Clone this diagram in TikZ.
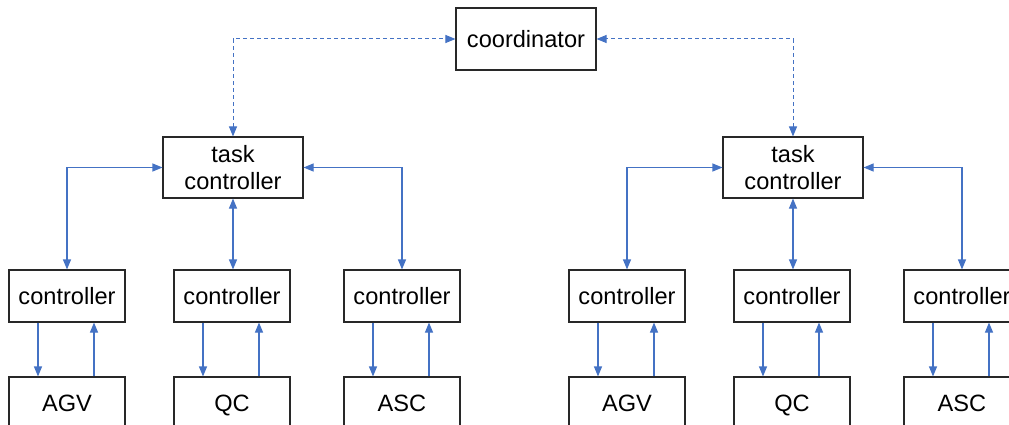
\documentclass[tikz,border=0pt]{standalone}
\usepackage{fontspec}
\setmainfont{Liberation Sans}
\usetikzlibrary{arrows.meta,calc}
\definecolor{linkblue}{RGB}{68,114,196}
\definecolor{boxgray}{RGB}{40,40,40}
\tikzset{
  unitbox/.style={draw=boxgray, line width=1.1pt, fill=white, inner sep=0pt,
    align=center, font=\fontsize{23.6}{27}\selectfont},
  ctrlbox/.style={unitbox, minimum width=116, minimum height=52},
  devbox/.style={unitbox, minimum width=116, minimum height=52,
    text height=17pt, text depth=0pt},
  topbox/.style={unitbox, minimum width=140, minimum height=61},
  link/.style={draw=linkblue, line width=1.1pt,
    arrows={-Triangle[length=10pt,width=8pt]}},
  duallink/.style={link, arrows={Triangle[length=10pt,width=8pt]-Triangle[length=10pt,width=8pt]}},
  softlink/.style={duallink, line width=1pt, dash pattern=on 4pt off 3pt}
}
\begin{document}
\begin{tikzpicture}[x=1pt, y=-1pt]
  \useasboundingbox (0,0) rectangle (1009,425);
  \clip (0,0) rectangle (1009,425);

  % top level
  \node[topbox, minimum height=62] (coord) at (526,39) {coordinator};
  \node[topbox] (tcL) at (233,167.5) {task\\controller};
  \node[topbox] (tcR) at (793,167.5) {task\\controller};

  % controllers and devices of both groups
  \foreach \side/\xa/\xb/\xc in {L/67/232/402, R/627/792/962} {
    \node[ctrlbox] (c\side1) at (\xa,296) {controller};
    \node[ctrlbox] (c\side2) at (\xb,296) {controller};
    \node[ctrlbox] (c\side3) at (\xc,296) {controller};
    \node[devbox] (d\side1) at (\xa,403) {AGV};
    \node[devbox] (d\side2) at (\xb,403) {QC};
    \node[devbox] (d\side3) at (\xc,403) {ASC};
  }

  % coordinator to task controllers
  \draw[softlink] (tcL.north) |- (coord.west);
  \draw[softlink] (tcR.north) |- (coord.east);

  % task controllers to controllers
  \foreach \side in {L,R} {
    \draw[duallink] (tc\side.west) -| (c\side1.north);
    \draw[duallink] (tc\side.south) -- (tc\side.south |- c\side2.north);
    \draw[duallink] (tc\side.east) -| (c\side3.north);
    \foreach \i in {1,2,3} {
      \draw[link] ([xshift=-29pt]c\side\i.south) -- ([xshift=-29pt]d\side\i.north);
      \draw[link] ([xshift=27pt]d\side\i.north) -- ([xshift=27pt]c\side\i.south);
    }
  }
\end{tikzpicture}
\end{document}
